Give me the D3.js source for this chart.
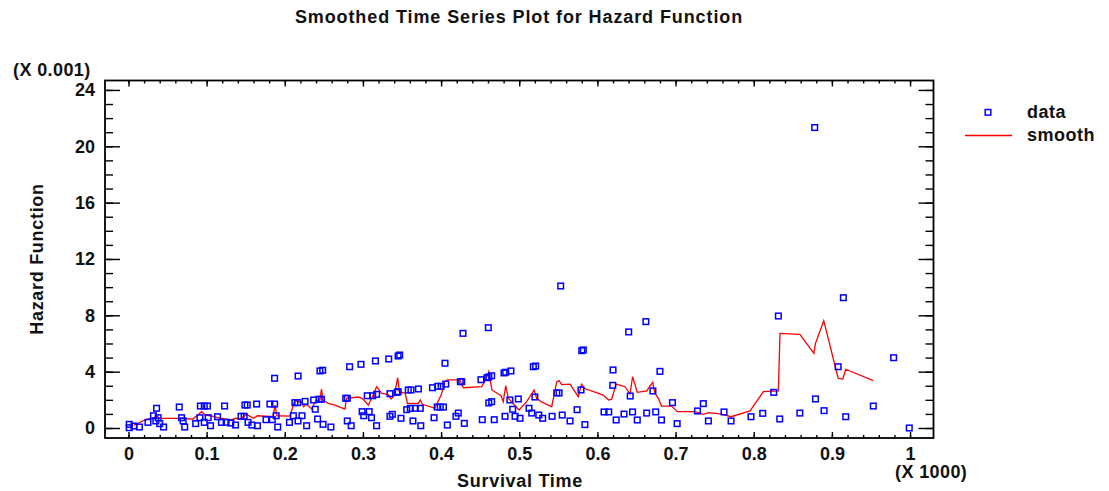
<!DOCTYPE html>
<html>
<head>
<meta charset="utf-8">
<script src="https://cdn.jsdelivr.net/npm/d3@7"></script>
<style>
  body { margin: 0; background: #fff; }
  text { font-family: "Liberation Sans", Arial, sans-serif; font-weight: bold; fill: #111; }
</style>
</head>
<body>
<svg width="1109" height="491"></svg>
<script>
// survival time (x 1000) and hazard (x 0.001)
var survTime = [0.001,0.001,0.007,0.014,0.025,0.032,0.036,0.038,0.035,0.040,0.045,
  0.065,0.068,0.070,0.072,0.086,0.0915,0.092,0.097,0.101,0.097,0.102,0.105,0.114,0.119,0.123,0.125,0.131,0.137,
  0.144,0.148,0.149,0.152,0.153,0.158,0.164,0.165,0.176,0.181,0.187,0.187,0.184,0.189,0.191,0.206,0.211,0.213,
  0.2165,0.217,0.217,0.222,0.226,0.228,0.237,0.239,0.242,0.244,0.245,0.2485,0.249,0.247,0.259,
  0.283,0.2975,0.278,0.280,0.280,0.285,0.299,0.301,0.3055,0.308,0.311,0.3125,0.3175,0.3175,0.316,0.333,0.345,
  0.347,0.3346,0.3346,0.3376,0.3436,0.345,0.3487,0.356,0.358,0.3615,0.3606,0.364,0.367,0.371,0.3734,0.374,
  0.389,0.391,0.3957,0.400,0.406,0.395,0.399,0.403,0.408,0.405,0.419,0.422,0.4246,0.4264,0.4297,0.428,
  0.451,0.4527,0.4587,0.461,0.4647,0.461,0.4647,0.468,0.4604,0.4805,0.4827,0.4894,0.4818,0.488,0.4916,
  0.4946,0.4988,0.501,0.5125,0.516,0.518,0.521,0.520,0.525,0.530,0.542,0.548,0.551,0.555,0.553,
  0.565,0.574,0.579,0.584,0.580,0.582,0.6085,0.6145,0.620,0.6196,0.624,0.634,0.640,0.642,0.645,0.651,
  0.662,0.663,0.671,0.6746,0.680,0.682,0.696,0.702,0.728,0.7355,0.742,0.762,0.771,0.7965,0.8115,0.8256,
  0.8315,0.8333,0.859,0.878,0.879,0.890,0.908,0.9147,0.9177,0.953,0.979,0.999];
var hazard = [0.26,0.02,0.14,0.07,0.40,0.87,1.40,0.73,0.50,0.31,0.07,
  1.49,0.73,0.50,0.07,0.31,0.73,1.56,1.56,1.56,0.40,0.73,0.16,0.80,0.40,1.56,0.40,0.35,0.21,
  0.83,0.83,1.63,1.63,0.40,0.21,1.70,0.16,0.59,1.70,1.70,3.53,0.59,0.87,0.07,0.40,0.87,1.80,
  1.80,3.69,0.50,0.87,1.89,0.16,1.99,1.33,0.64,2.04,4.05,4.10,0.26,2.04,0.07,
  4.35,4.52,2.11,2.11,0.50,0.16,1.16,0.87,2.29,1.16,0.73,2.29,2.39,0.16,4.76,4.90,5.11,
  5.18,2.44,0.83,0.97,2.53,2.58,0.69,1.30,2.70,2.70,1.40,0.50,1.40,2.77,1.40,0.16,
  2.86,0.73,2.96,2.96,3.12,1.49,1.49,1.49,0.21,4.60,0.83,1.06,3.29,3.29,0.33,6.72,
  3.43,0.59,3.57,3.62,3.71,1.78,1.87,0.59,7.12,3.91,3.96,4.05,0.83,1.99,1.33,
  0.83,2.06,0.69,1.40,1.06,4.35,4.40,2.20,0.92,0.69,0.83,2.49,2.49,0.92,10.08,
  0.50,1.30,2.70,0.24,5.49,5.54,1.14,1.14,4.12,3.03,0.57,0.99,6.82,2.27,1.14,0.57,
  7.55,1.06,2.63,1.14,4.02,0.57,1.80,0.31,1.21,1.73,0.50,1.14,0.50,0.80,1.04,2.53,
  7.95,0.64,1.06,21.33,2.06,1.23,4.35,9.25,0.80,1.56,4.99,0.0];

// smoothed series
var smoothX = [0.007,0.023,0.034,0.036,0.040,0.060,0.072,0.082,0.0936,0.098,0.105,0.114,0.123,0.132,0.137,0.143,
  0.151,0.160,0.165,0.185,0.1875,0.190,0.2066,0.213,0.217,0.2216,0.224,0.2276,0.2345,0.2395,0.245,0.247,0.249,
  0.2557,0.264,0.277,0.279,0.294,0.299,0.307,0.312,0.3175,0.324,0.332,0.336,0.340,0.3445,0.3465,0.354,0.357,
  0.371,0.3734,0.376,0.392,0.400,0.4016,0.405,0.408,0.424,0.4285,0.452,0.458,0.461,0.465,0.4766,0.4795,0.4827,
  0.486,0.490,0.4997,0.5095,0.519,0.5223,0.528,0.5415,0.548,0.551,0.5543,0.565,0.5755,0.5797,0.583,0.6075,
  0.6142,0.6183,0.624,0.6353,0.6417,0.645,0.651,0.663,0.6707,0.6737,0.678,0.682,0.695,0.7022,0.725,0.7355,
  0.742,0.759,0.771,0.7953,0.8123,0.8315,0.8336,0.859,0.877,0.879,0.8896,0.908,0.914,0.9177,0.953];
var smoothY = [0.20,0.62,0.76,0.87,0.69,0.69,0.69,0.62,1.16,0.92,0.87,0.73,0.64,0.57,0.69,0.64,
  0.97,0.69,0.87,0.80,1.63,0.87,0.85,1.99,1.85,1.87,1.51,1.68,1.35,1.92,1.99,2.77,1.99,
  1.75,1.63,1.35,2.11,2.20,2.11,1.63,2.22,2.93,2.46,2.39,2.06,2.29,3.57,2.58,2.46,1.75,
  1.75,1.99,1.68,1.40,2.34,2.63,3.29,3.41,3.41,2.86,2.93,3.53,4.00,2.70,2.29,1.87,3.00,
  2.11,1.87,1.28,1.87,2.70,2.11,1.87,1.51,3.29,3.36,3.08,3.12,2.22,3.10,2.82,2.34,
  1.99,2.04,3.12,2.93,2.41,3.64,2.53,2.63,3.24,2.46,2.11,1.56,1.56,1.16,1.16,0.97,
  1.09,0.99,0.80,1.21,2.58,2.63,6.72,6.65,5.30,6.01,7.62,3.53,3.48,4.17,3.36];

var xTicks = [0, 0.1, 0.2, 0.3, 0.4, 0.5, 0.6, 0.7, 0.8, 0.9, 1];
var yTicks = [0, 4, 8, 12, 16, 20, 24];

var svg = d3.select("svg");

var plotL = 105, plotR = 933.5, plotT = 80.5, plotB = 438;

var x = d3.scaleLinear().domain([-0.03, 1.03]).range([plotL, plotR]);
var y = d3.scaleLinear().domain([-0.71, 24.67]).range([plotB, plotT]);

var fmt = d3.format("~g");
var BLUE = "#0000ff", RED = "#ff0000";

// minor ticks
var xMinor = d3.range(0, 51).map(function(i) { return i * 0.02; });
var yMinor = d3.range(0, 25);

svg.append("g").attr("transform", "translate(0," + plotB + ")")
    .call(d3.axisBottom(x).tickValues(xMinor).tickSize(-3).tickFormat(""));
svg.append("g").attr("transform", "translate(0," + plotT + ")")
    .call(d3.axisTop(x).tickValues(xMinor).tickSize(-3).tickFormat(""));
svg.append("g").attr("transform", "translate(" + plotL + ",0)")
    .call(d3.axisLeft(y).tickValues(yMinor).tickSize(-8).tickFormat(""));
svg.append("g").attr("transform", "translate(" + plotR + ",0)")
    .call(d3.axisRight(y).tickValues(yMinor).tickSize(-8).tickFormat(""));

// major ticks + labels
svg.append("g").attr("class", "xaxis").attr("transform", "translate(0," + plotB + ")")
    .call(d3.axisBottom(x).tickValues(xTicks).tickSize(-6).tickPadding(9).tickFormat(fmt));
svg.append("g").attr("transform", "translate(0," + plotT + ")")
    .call(d3.axisTop(x).tickValues(xTicks).tickSize(-6).tickFormat(""));
svg.append("g").attr("class", "yaxis").attr("transform", "translate(" + plotL + ",0)")
    .call(d3.axisLeft(y).tickValues(yTicks).tickSize(-15).tickPadding(10).tickFormat(fmt));
svg.append("g").attr("transform", "translate(" + plotR + ",0)")
    .call(d3.axisRight(y).tickValues(yTicks).tickSize(-15).tickFormat(""));

svg.selectAll(".domain").remove();
svg.selectAll(".tick line").attr("stroke", "#000").attr("stroke-width", 1.4);
svg.selectAll(".xaxis text, .yaxis text")
    .attr("font-size", 18)
    .attr("font-family", "Liberation Sans, Arial, sans-serif")
    .attr("font-weight", "bold");

// frame
svg.append("rect")
    .attr("x", plotL).attr("y", plotT)
    .attr("width", plotR - plotL).attr("height", plotB - plotT)
    .attr("fill", "none").attr("stroke", "#000").attr("stroke-width", 1.8);

// smooth line
var line = d3.line()
    .x(function(d, i) { return x(smoothX[i]); })
    .y(function(d, i) { return y(smoothY[i]); });

svg.append("path")
    .datum(smoothX)
    .attr("d", line)
    .attr("fill", "none")
    .attr("stroke", RED)
    .attr("stroke-width", 1.3);

// data points
svg.append("g")
  .selectAll("rect")
    .data(survTime)
  .enter().append("rect")
    .attr("x", function(d) { return x(d) - 2.8; })
    .attr("y", function(d, i) { return y(hazard[i]) - 2.8; })
    .attr("width", 5.6).attr("height", 5.6)
    .attr("fill", "none")
    .attr("stroke", BLUE)
    .attr("stroke-width", 1.5);

// titles
svg.append("text")
    .attr("x", 519).attr("y", 23)
    .attr("text-anchor", "middle")
    .attr("font-size", 18)
    .attr("letter-spacing", 0.9)
    .text("Smoothed Time Series Plot for Hazard Function");

svg.append("text")
    .attr("x", 520).attr("y", 487)
    .attr("text-anchor", "middle")
    .attr("font-size", 18)
    .attr("letter-spacing", 0.7)
    .text("Survival Time");

svg.append("text")
    .attr("transform", "translate(43,259) rotate(-90)")
    .attr("text-anchor", "middle")
    .attr("font-size", 18)
    .attr("letter-spacing", 0.7)
    .text("Hazard Function");

svg.append("text")
    .attr("x", 13).attr("y", 76)
    .attr("font-size", 18)
    .attr("letter-spacing", 0.4)
    .text("(X 0.001)");

svg.append("text")
    .attr("x", 895).attr("y", 478)
    .attr("font-size", 18)
    .attr("letter-spacing", 0.4)
    .text("(X 1000)");

// legend
svg.append("rect")
    .attr("x", 985.2).attr("y", 109.5)
    .attr("width", 5.6).attr("height", 5.6)
    .attr("fill", "none").attr("stroke", BLUE).attr("stroke-width", 1.5);
svg.append("text").attr("x", 1027).attr("y", 118).attr("font-size", 18).attr("letter-spacing", 0.5).text("data");

svg.append("line")
    .attr("x1", 965).attr("x2", 1012).attr("y1", 135.5).attr("y2", 135.5)
    .attr("stroke", RED).attr("stroke-width", 1.3);
svg.append("text").attr("x", 1027).attr("y", 141).attr("font-size", 18).attr("letter-spacing", 0.5).text("smooth");
</script>
</body>
</html>
